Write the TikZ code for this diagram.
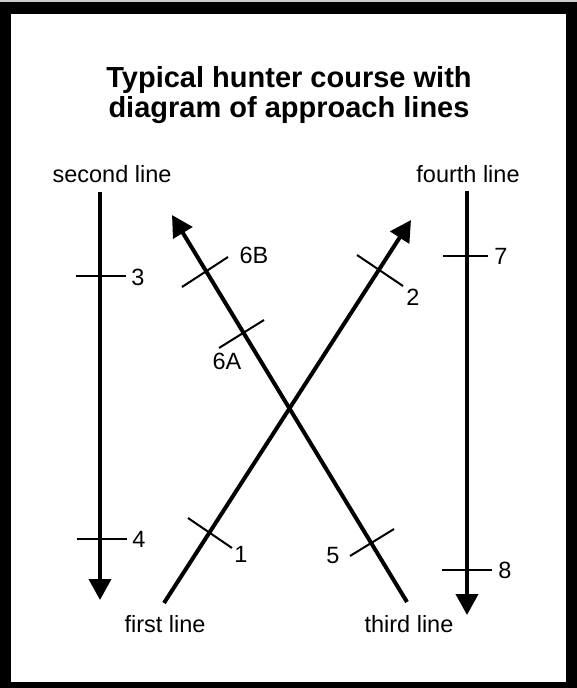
\documentclass[tikz,border=0pt]{standalone}
\usepackage{fontspec}
\setmainfont{Liberation Sans}
\usetikzlibrary{arrows.meta}
\tikzset{
  mainline/.style={line width=4pt, -{Triangle[length=21pt,width=22pt]}},
  tick/.style={line width=2pt},
  lbl/.style={font=\fontsize{23.5}{28}\selectfont, inner sep=0pt},
  ttl/.style={font=\fontsize{29}{30}\selectfont\bfseries, inner sep=0pt, align=center},
}
\begin{document}
\begin{tikzpicture}[x=1pt,y=-1pt]
\useasboundingbox (0,0) rectangle (577,688);
% frame
\fill[gray!40] (0,0) rectangle (577,2);
\fill[black] (0,2) rectangle (577,688);
\fill[white] (11,14) rectangle (566,682);
% title
\node[ttl, anchor=base] (title) at (289,117) {Typical hunter course with\\diagram of approach lines};
% end points
\coordinate (Ltop) at (100,192);
\coordinate (Ltip) at (100,600);
\coordinate (Rtop) at (467,191);
\coordinate (Rtip) at (467,615);
\coordinate (Fstart) at (164,603);
\coordinate (Ftip) at (411,220);
\coordinate (Tstart) at (407,602);
\coordinate (Ttip) at (172,215);
% main lines
\draw[mainline] (Ltop) -- (Ltip);
\draw[mainline] (Rtop) -- (Rtip);
\draw[mainline] (Fstart) -- (Ftip);
\draw[mainline] (Tstart) -- (Ttip);
% ticks
\coordinate (t3a) at (76,276);   \coordinate (t3b) at (126,276);
\coordinate (t4a) at (77,539);   \coordinate (t4b) at (127,539);
\coordinate (t7a) at (443,256);  \coordinate (t7b) at (488,256);
\coordinate (t8a) at (442,570);  \coordinate (t8b) at (492,570);
\coordinate (t1a) at (188,518);  \coordinate (t1b) at (232,548);
\coordinate (t2a) at (357,255);  \coordinate (t2b) at (403,286);
\coordinate (t6Ba) at (182,287); \coordinate (t6Bb) at (228,257);
\coordinate (t6Aa) at (219,348); \coordinate (t6Ab) at (264,320);
\coordinate (t5a) at (350,556);  \coordinate (t5b) at (394,529);
\foreach \t in {3,4,7,8,1,2,6B,6A,5}{\draw[tick] (t\t a) -- (t\t b);}
% number labels
\node[lbl] (n3) at (138,277) {3};
\node[lbl] (n4) at (139,539) {4};
\node[lbl] (n7) at (501,256) {7};
\node[lbl] (n8) at (505,570) {8};
\node[lbl] (n1) at (241,554) {1};
\node[lbl] (n2) at (413,297) {2};
\node[lbl] (n6B) at (254,255) {6B};
\node[lbl] (n6A) at (227,361) {6A};
\node[lbl] (n5) at (333,556) {5};
% line labels
\node[lbl, anchor=base] (second) at (112,182) {second line};
\node[lbl, anchor=base] (fourth) at (468,182) {fourth line};
\node[lbl, anchor=base] (first) at (165,632) {first line};
\node[lbl, anchor=base] (third) at (409,632) {third line};
\end{tikzpicture}
\end{document}
